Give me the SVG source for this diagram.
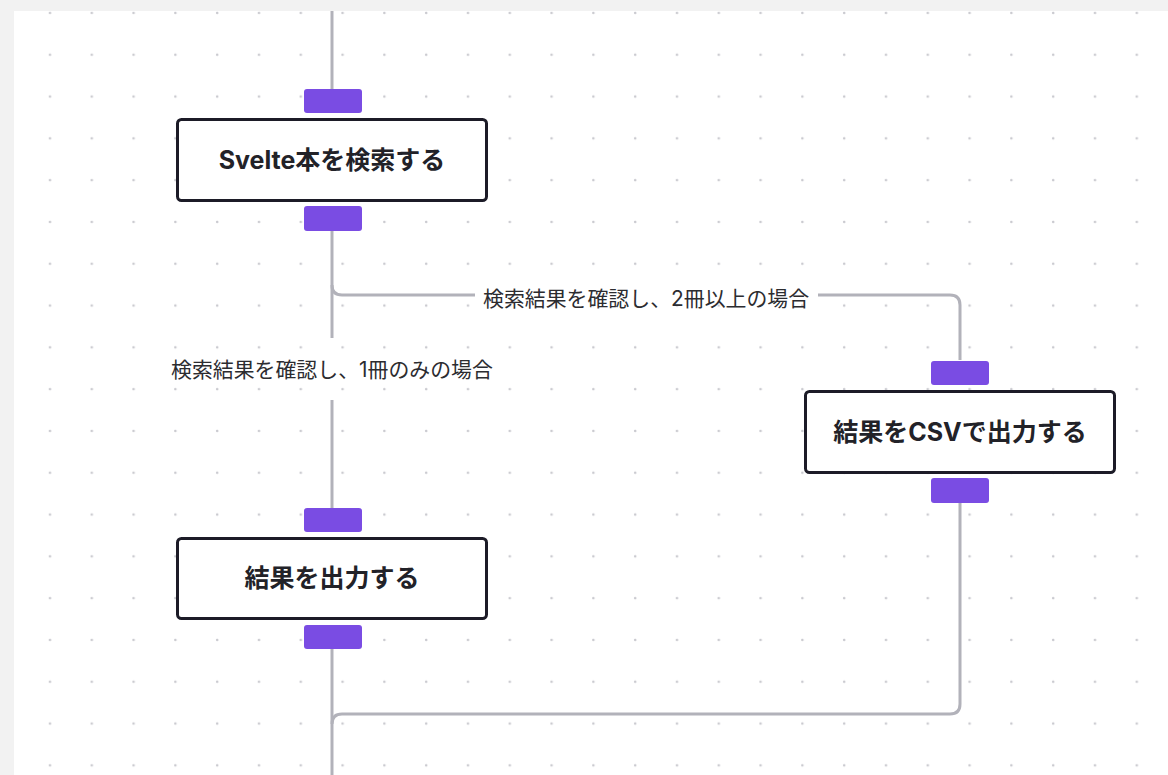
<svg xmlns="http://www.w3.org/2000/svg" width="1168" height="775" viewBox="0 0 1168 775">
  <defs>
    <pattern id="dots" x="0" y="0" width="41.8" height="41.8" patternUnits="userSpaceOnUse">
      <circle cx="8.2" cy="13" r="1.3" fill="#c9c9cf"/>
    </pattern>
    <style>
      .node rect.box { fill: #ffffff; stroke: #1c1b27; stroke-width: 3; }
      .handle { fill: #7a4ce3; }
      .ntext { font-family: "Inter", "Noto Sans CJK JP", sans-serif; font-weight: 700; font-size: 25px; fill: #222228; text-anchor: middle; dominant-baseline: central; }
      .ltext { font-family: "Inter", "Noto Sans CJK JP", sans-serif; font-weight: 400; font-size: 20.9px; fill: #2c2c30; dominant-baseline: central; }
      .conn path { fill: none; stroke: #b2b2ba; stroke-width: 3; }
    </style>
  </defs>
  <rect x="0" y="0" width="1168" height="775" fill="#f2f2f2"/>
  <rect x="14" y="11" width="1154" height="764" fill="#ffffff"/>
  <rect x="14" y="11" width="1154" height="764" fill="url(#dots)"/>

  <g id="connectors" class="conn">
    <path d="M332 11 V89"/>
    <path d="M332 231 V338"/>
    <path d="M332 400 V508"/>
    <path d="M332 285 Q332 295 342 295 H475"/>
    <path d="M818 295 H950 Q960 295 960 305 V360"/>
    <path d="M332 649 V775"/>
    <path d="M960 503 V704 Q960 714 950 714 H342 Q332 714 332 724"/>
    <text class="ltext" x="171" y="369">検索結果を確認し、1冊のみの場合</text>
    <text class="ltext" x="483" y="298">検索結果を確認し、2冊以上の場合</text>
  </g>

  <g id="node-search" class="node">
    <rect class="handle" x="304" y="89" width="58" height="24" rx="3"/>
    <rect class="box" x="177.5" y="119.5" width="309" height="81" rx="4"/>
    <rect class="handle" x="304" y="206" width="58" height="25" rx="3"/>
    <text class="ntext" x="332" y="160">Svelte本を検索する</text>
  </g>

  <g id="node-csv" class="node">
    <rect class="handle" x="931" y="361" width="58" height="24" rx="3"/>
    <rect class="box" x="805.5" y="391.5" width="309" height="81" rx="4"/>
    <rect class="handle" x="931" y="478" width="58" height="25" rx="3"/>
    <text class="ntext" x="960" y="432">結果をCSVで出力する</text>
  </g>

  <g id="node-output" class="node">
    <rect class="handle" x="304" y="508" width="58" height="24" rx="3"/>
    <rect class="box" x="177.5" y="538.5" width="309" height="80" rx="4"/>
    <rect class="handle" x="304" y="625" width="58" height="24" rx="3"/>
    <text class="ntext" x="332" y="578">結果を出力する</text>
  </g>
</svg>
